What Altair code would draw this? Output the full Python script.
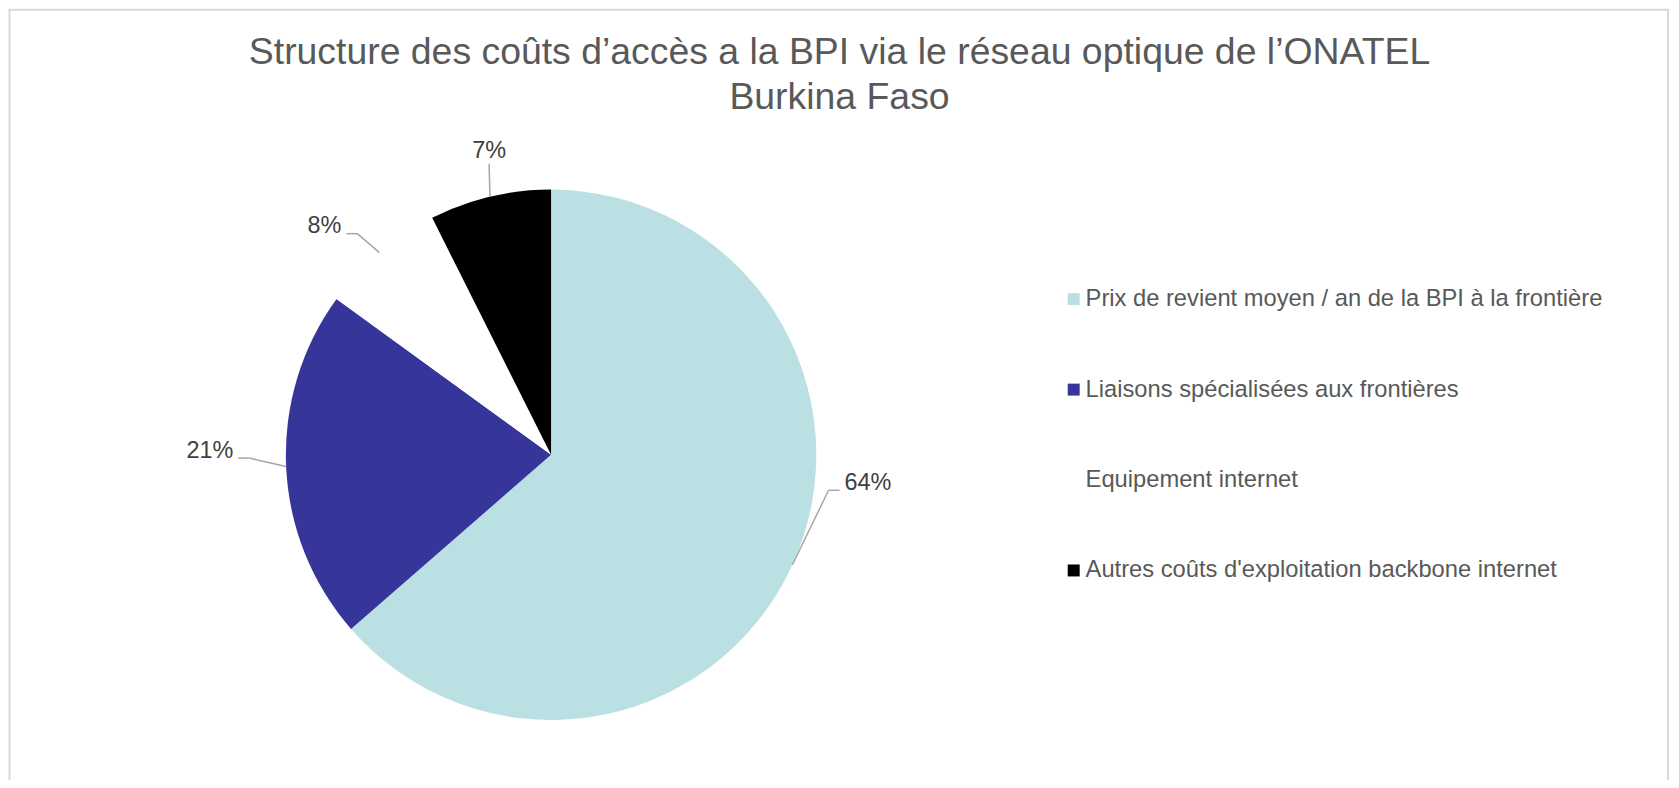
import altair as alt
import pandas as pd

# ---- data ----
categories = [
    "Prix de revient moyen / an de la BPI à la frontière",
    "Liaisons spécialisées aux frontières",
    "Equipement internet",
    "Autres coûts d'exploitation backbone internet",
]
values = [63.6, 21.4, 7.6, 7.4]
title_lines = [
    "Structure des coûts d’accès a la BPI via le réseau optique de l’ONATEL",
    "Burkina Faso",
]

# ---- style ----
colors = ["#BAE0E3", "#35359A", "#FFFFFF", "#000000"]
label_nudge_deg = [-17.2, 1.9, -0.9, 1.3]   # data-label angle shift (best-fit look)
label_gap = [14.6, 36.7, 28.9, 32.5]        # leader length beyond pie edge
W, H = 1668, 772
CX, CY, R = 544.7, 447.0, 266.0
FONT = "Liberation Sans"

df = pd.DataFrame({
    "category": categories,
    "value": values,
    "order": list(range(len(categories))),
    "nudge": label_nudge_deg,
    "gap": label_gap,
})

base = (
    alt.Chart(df)
    .transform_joinaggregate(total="sum(value)")
    .transform_window(cum="sum(value)", sort=[alt.SortField("order")], frame=[None, 0])
    .transform_calculate(
        mid="(datum.cum - datum.value / 2) / datum.total * 2 * PI",
        label="format(datum.value / datum.total * 100, '.0f') + '%'",
    )
    .transform_calculate(ang="datum.mid + datum.nudge * PI / 180")
    .transform_calculate(
        px=f"{CX} + {R} * sin(datum.mid)",
        py=f"{CY} - {R} * cos(datum.mid)",
        ex=f"{CX} + ({R} + datum.gap) * sin(datum.ang)",
        ey=f"{CY} - ({R} + datum.gap) * cos(datum.ang)",
        side="abs(sin(datum.ang)) < 0.3 ? 0 : (sin(datum.ang) > 0 ? 1 : -1)",
    )
    .transform_calculate(
        hx="datum.ex + datum.side * 11",
        tx="datum.ex + datum.side * 16",
        ty="datum.side == 0 ? datum.ey - 12.3 : datum.ey - 7.5",
    )
)

pie = alt.Chart(df).mark_arc(radius=R).encode(
    theta=alt.Theta("value:Q", stack=True),
    order=alt.Order("order:Q"),
    x=alt.value(CX),
    y=alt.value(CY),
    color=alt.Color(
        "category:N",
        sort=categories,
        scale=alt.Scale(domain=categories, range=colors),
        legend=alt.Legend(
            orient="none", legendX=1057, legendY=279, title=None,
            symbolType="square", symbolSize=144, symbolStrokeWidth=0,
            symbolOpacity=1,
            labelFont=FONT, labelFontSize=23.8, labelColor="#595959",
            labelOffset=0, labelLimit=2000, rowPadding=65.7, padding=0,
        ),
    ),
)

nox = dict(scale=None, axis=None)
lead1 = base.mark_rule(color="#A6A6A6", strokeWidth=1.5).encode(
    x=alt.X("px:Q", **nox), y=alt.Y("py:Q", **nox),
    x2="ex:Q", y2="ey:Q",
)
lead2 = base.mark_rule(color="#A6A6A6", strokeWidth=1.5).encode(
    x=alt.X("ex:Q", **nox), y=alt.Y("ey:Q", **nox),
    x2="hx:Q", y2="ey:Q",
)

def labels(side, align):
    return (
        base.transform_filter(f"datum.side == {side}")
        .mark_text(font=FONT, fontSize=23.5, color="#404040", align=align, baseline="middle")
        .encode(x=alt.X("tx:Q", **nox), y=alt.Y("ty:Q", **nox), text="label:N")
    )

frame = alt.Chart(pd.DataFrame({"k": [0]})).mark_rect(
    fill=None, stroke="#D9D9D9", strokeWidth=2
).encode(x=alt.value(1.5), x2=alt.value(1665), y=alt.value(0.5), y2=alt.value(1000))

chart = (
    alt.layer(frame, pie, lead1, lead2, labels(1, "left"), labels(-1, "right"), labels(0, "center"))
    .properties(
        width=W, height=H,
        title=alt.TitleParams(
            text=title_lines, anchor="middle", frame="group", orient="top",
            font=FONT, fontSize=37.5, fontWeight="normal", color="#595959",
            lineHeight=44.5, offset=-108,
        ),
        autosize=alt.AutoSizeParams(type="none"),
        padding=0,
    )
    .configure_view(stroke=None)
)

chart.save("out.html", embed_options={"renderer": "svg", "actions": False})
